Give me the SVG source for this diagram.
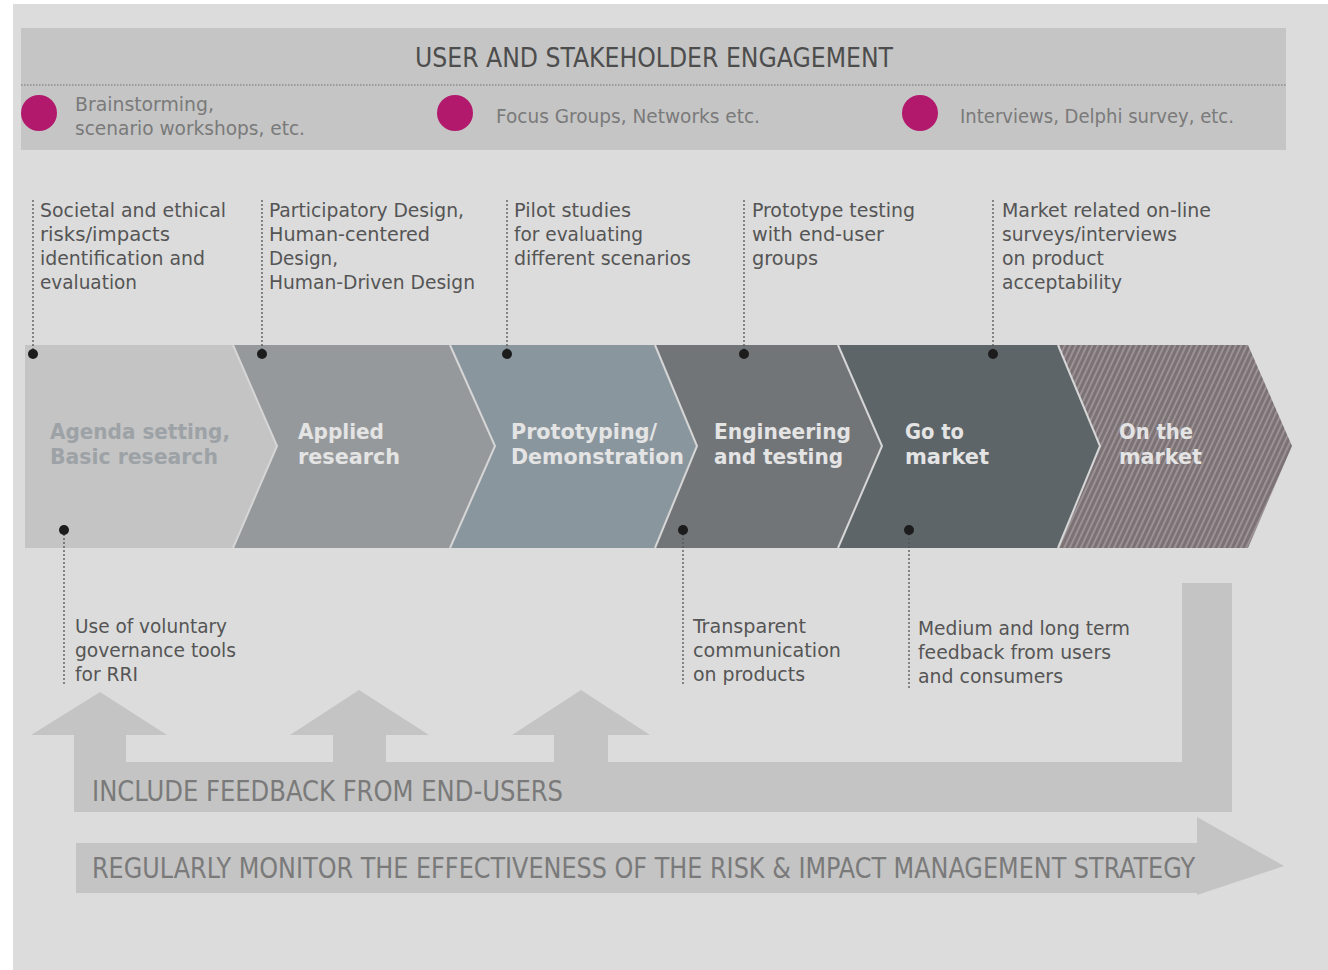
<svg xmlns="http://www.w3.org/2000/svg" width="1328" height="970" viewBox="0 0 1328 970">
<defs>
<style>
text{font-family:'DejaVu Sans Condensed','DejaVu Sans','Liberation Sans',sans-serif;font-stretch:condensed}
.title{font-size:27px;fill:#4d4d4d}
.item{font-size:19px;fill:#7a7a7a}
.ann{font-size:19px;fill:#555}
.stage{font-size:21px;font-weight:bold;fill:#e4e4e4}
.big{font-size:28px;fill:#7a7a7a}
.conn{stroke:#555;stroke-width:1.3;stroke-dasharray:2 2;fill:none}
.dot{fill:#1c1c1c}
.sep{stroke:#d6d6d6;stroke-width:2;fill:none}
.band{fill:#c4c4c4}
</style>
<pattern id="hatch" patternUnits="userSpaceOnUse" width="5" height="5" patternTransform="rotate(25)">
<rect width="5" height="5" fill="#7a7274"/>
<rect width="2" height="5" fill="#9c9194"/>
</pattern>
</defs>
<rect x="0" y="0" width="1328" height="970" fill="#ffffff"/>
<rect x="13" y="4" width="1315" height="966" fill="#dcdcdc"/>

<g id="engagement">
<rect x="21" y="28" width="1265" height="122" fill="#c5c5c5"/>
<line x1="21" y1="85" x2="1286" y2="85" stroke="#9a9a9a" stroke-width="2" stroke-dasharray="1.5 1.5"/>
<text class="title" x="415" y="67" textLength="478" lengthAdjust="spacingAndGlyphs">USER AND STAKEHOLDER ENGAGEMENT</text>
<circle cx="39" cy="113" r="18" fill="#b2196c"/>
<circle cx="455" cy="113" r="18" fill="#b2196c"/>
<circle cx="920" cy="113" r="18" fill="#b2196c"/>
<text class="item" x="75" y="111" textLength="139" lengthAdjust="spacingAndGlyphs">Brainstorming,</text>
<text class="item" x="75" y="135" textLength="230" lengthAdjust="spacingAndGlyphs">scenario workshops, etc.</text>
<text class="item" x="496" y="123" textLength="264" lengthAdjust="spacingAndGlyphs">Focus Groups, Networks etc.</text>
<text class="item" x="960" y="123" textLength="274" lengthAdjust="spacingAndGlyphs">Interviews, Delphi survey, etc.</text>
</g>

<g id="stage-agenda">
<polygon points="25,345 233,345 277,446 233,548 25,548" fill="#c4c4c4"/>
<text class="stage" x="50" y="439" textLength="180" lengthAdjust="spacingAndGlyphs" style="fill:#9da2a6">Agenda setting,</text>
<text class="stage" x="50" y="464" textLength="168" lengthAdjust="spacingAndGlyphs" style="fill:#9da2a6">Basic research</text>
</g>
<g id="stage-applied">
<polygon points="233,345 450,345 495,446 450,548 233,548 277,446" fill="#96999b"/>
<text class="stage" x="298" y="439" textLength="86" lengthAdjust="spacingAndGlyphs">Applied</text>
<text class="stage" x="298" y="464" textLength="102" lengthAdjust="spacingAndGlyphs">research</text>
</g>
<g id="stage-prototyping">
<polygon points="450,345 655,345 697,446 655,548 450,548 495,446" fill="#8a969e"/>
<text class="stage" x="511" y="439" textLength="146" lengthAdjust="spacingAndGlyphs">Prototyping/</text>
<text class="stage" x="511" y="464" textLength="173" lengthAdjust="spacingAndGlyphs">Demonstration</text>
</g>
<g id="stage-engineering">
<polygon points="655,345 838,345 882,446 838,548 655,548 697,446" fill="#727578"/>
<text class="stage" x="714" y="439" textLength="137" lengthAdjust="spacingAndGlyphs">Engineering</text>
<text class="stage" x="714" y="464" textLength="129" lengthAdjust="spacingAndGlyphs">and testing</text>
</g>
<g id="stage-go-to-market">
<polygon points="838,345 1058,345 1100,446 1058,548 838,548 882,446" fill="#5d6569"/>
<text class="stage" x="905" y="439" textLength="59" lengthAdjust="spacingAndGlyphs">Go to</text>
<text class="stage" x="905" y="464" textLength="84" lengthAdjust="spacingAndGlyphs">market</text>
</g>
<g id="stage-on-the-market">
<polygon points="1058,345 1248,345 1292,446 1248,548 1058,548 1100,446" fill="url(#hatch)"/>
<text class="stage" x="1119" y="439" textLength="74" lengthAdjust="spacingAndGlyphs">On the</text>
<text class="stage" x="1119" y="464" textLength="83" lengthAdjust="spacingAndGlyphs">market</text>
</g>
<g id="separators">
<polyline class="sep" points="233,345 277,446 233,548"/>
<polyline class="sep" points="450,345 495,446 450,548"/>
<polyline class="sep" points="655,345 697,446 655,548"/>
<polyline class="sep" points="838,345 882,446 838,548"/>
<polyline class="sep" points="1058,345 1100,446 1058,548"/>
</g>

<g id="note-societal">
<text class="ann" x="40" y="217" textLength="186" lengthAdjust="spacingAndGlyphs">Societal and ethical</text>
<text class="ann" x="40" y="241" textLength="130" lengthAdjust="spacingAndGlyphs">risks/impacts</text>
<text class="ann" x="40" y="265" textLength="165" lengthAdjust="spacingAndGlyphs">identification and</text>
<text class="ann" x="40" y="289" textLength="97" lengthAdjust="spacingAndGlyphs">evaluation</text>
</g>
<g id="note-participatory">
<text class="ann" x="269" y="217" textLength="195" lengthAdjust="spacingAndGlyphs">Participatory Design,</text>
<text class="ann" x="269" y="241" textLength="161" lengthAdjust="spacingAndGlyphs">Human-centered</text>
<text class="ann" x="269" y="265" textLength="69" lengthAdjust="spacingAndGlyphs">Design,</text>
<text class="ann" x="269" y="289" textLength="206" lengthAdjust="spacingAndGlyphs">Human-Driven Design</text>
</g>
<g id="note-pilot">
<text class="ann" x="514" y="217" textLength="117" lengthAdjust="spacingAndGlyphs">Pilot studies</text>
<text class="ann" x="514" y="241" textLength="129" lengthAdjust="spacingAndGlyphs">for evaluating</text>
<text class="ann" x="514" y="265" textLength="177" lengthAdjust="spacingAndGlyphs">different scenarios</text>
</g>
<g id="note-prototype">
<text class="ann" x="752" y="217" textLength="163" lengthAdjust="spacingAndGlyphs">Prototype testing</text>
<text class="ann" x="752" y="241" textLength="132" lengthAdjust="spacingAndGlyphs">with end-user</text>
<text class="ann" x="752" y="265" textLength="66" lengthAdjust="spacingAndGlyphs">groups</text>
</g>
<g id="note-market">
<text class="ann" x="1002" y="217" textLength="209" lengthAdjust="spacingAndGlyphs">Market related on-line</text>
<text class="ann" x="1002" y="241" textLength="175" lengthAdjust="spacingAndGlyphs">surveys/interviews</text>
<text class="ann" x="1002" y="265" textLength="102" lengthAdjust="spacingAndGlyphs">on product</text>
<text class="ann" x="1002" y="289" textLength="120" lengthAdjust="spacingAndGlyphs">acceptability</text>
</g>
<g id="note-governance">
<text class="ann" x="75" y="633" textLength="152" lengthAdjust="spacingAndGlyphs">Use of voluntary</text>
<text class="ann" x="75" y="657" textLength="161" lengthAdjust="spacingAndGlyphs">governance tools</text>
<text class="ann" x="75" y="681" textLength="63" lengthAdjust="spacingAndGlyphs">for RRI</text>
</g>
<g id="note-transparent">
<text class="ann" x="693" y="633" textLength="113" lengthAdjust="spacingAndGlyphs">Transparent</text>
<text class="ann" x="693" y="657" textLength="148" lengthAdjust="spacingAndGlyphs">communication</text>
<text class="ann" x="693" y="681" textLength="112" lengthAdjust="spacingAndGlyphs">on products</text>
</g>
<g id="note-feedback">
<text class="ann" x="918" y="635" textLength="212" lengthAdjust="spacingAndGlyphs">Medium and long term</text>
<text class="ann" x="918" y="659" textLength="193" lengthAdjust="spacingAndGlyphs">feedback from users</text>
<text class="ann" x="918" y="683" textLength="145" lengthAdjust="spacingAndGlyphs">and consumers</text>
</g>

<g id="connectors">
<line class="conn" x1="33" y1="200" x2="33" y2="354"/>
<line class="conn" x1="262" y1="200" x2="262" y2="354"/>
<line class="conn" x1="507" y1="200" x2="507" y2="354"/>
<line class="conn" x1="744" y1="200" x2="744" y2="354"/>
<line class="conn" x1="993" y1="200" x2="993" y2="354"/>
<line class="conn" x1="64" y1="530" x2="64" y2="685"/>
<line class="conn" x1="683" y1="530" x2="683" y2="685"/>
<line class="conn" x1="909" y1="530" x2="909" y2="688"/>
<circle class="dot" cx="33" cy="354" r="5"/>
<circle class="dot" cx="262" cy="354" r="5"/>
<circle class="dot" cx="507" cy="354" r="5"/>
<circle class="dot" cx="744" cy="354" r="5"/>
<circle class="dot" cx="993" cy="354" r="5"/>
<circle class="dot" cx="64" cy="530" r="5"/>
<circle class="dot" cx="683" cy="530" r="5"/>
<circle class="dot" cx="909" cy="530" r="5"/>
</g>

<g id="feedback-loop">
<path class="band" d="M74,762 L74,735 L31,735 L100,692 L167,735 L126,735 L126,762 L333,762 L333,735 L290,735 L359,690 L429,735 L386,735 L386,762 L554,762 L554,735 L512,735 L581,690 L650,735 L608,735 L608,762 L1182,762 L1182,583 L1232,583 L1232,812 L74,812 Z"/>
<text class="big" x="92" y="801" textLength="471" lengthAdjust="spacingAndGlyphs">INCLUDE FEEDBACK FROM END-USERS</text>
</g>
<g id="monitor">
<path class="band" d="M76,843 L1197,843 L1197,817 L1284,866 L1197,895 L1197,893 L76,893 Z"/>
<text class="big" x="92" y="878" textLength="1103" lengthAdjust="spacingAndGlyphs">REGULARLY MONITOR THE EFFECTIVENESS OF THE RISK &amp; IMPACT MANAGEMENT STRATEGY</text>
</g>
</svg>
